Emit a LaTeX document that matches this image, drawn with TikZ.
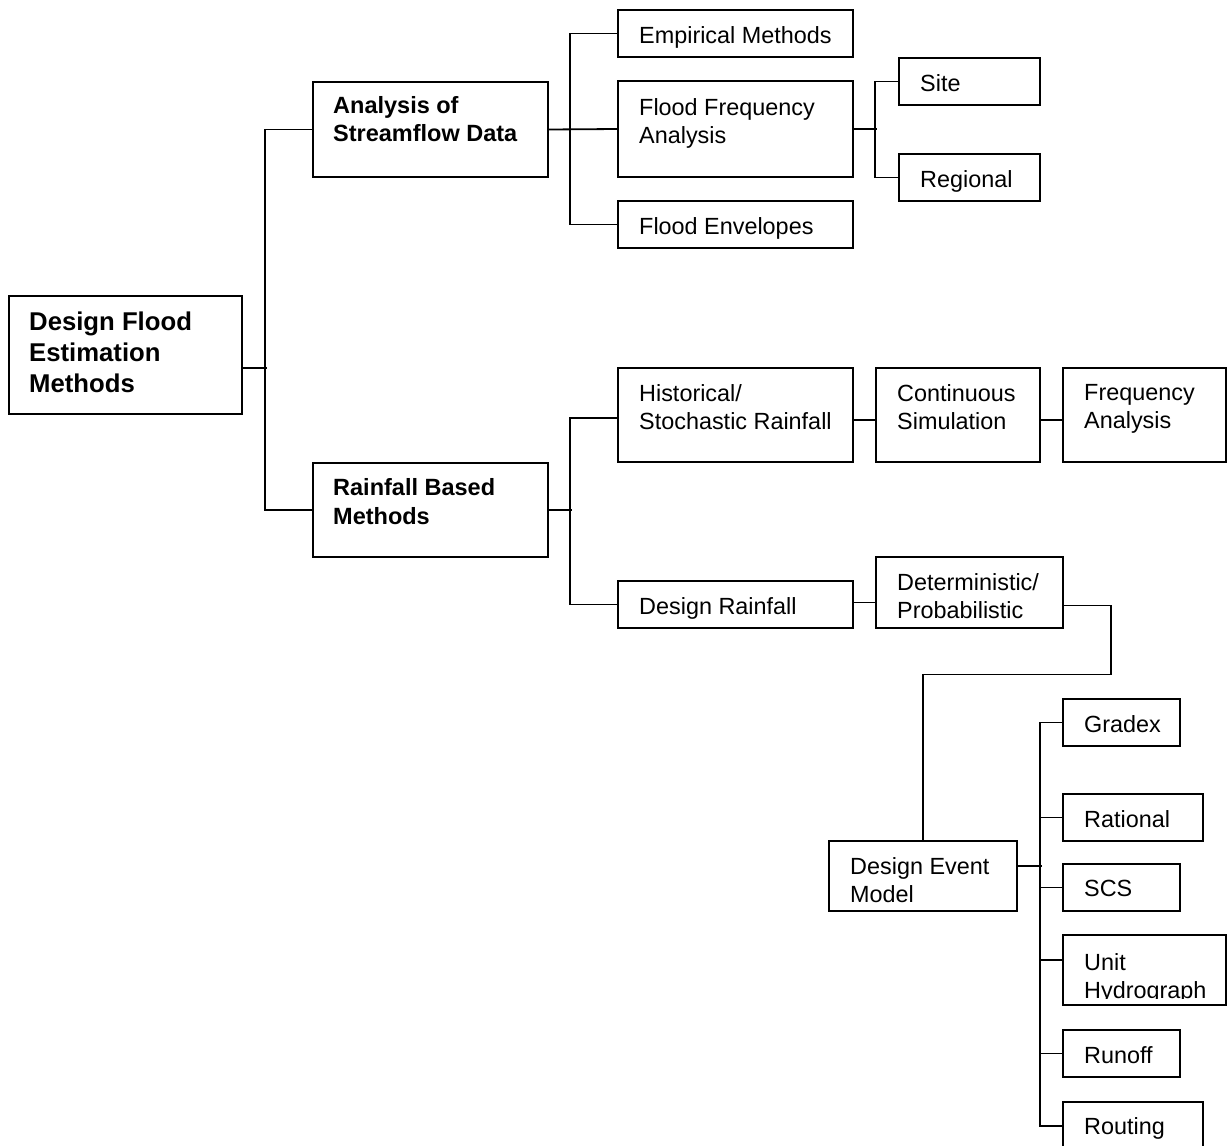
\documentclass[tikz,border=0pt]{standalone}
\usepackage{fontspec}
\setmainfont{Liberation Sans}
\newcommand\rgfont{\fontsize{23.4}{28}\selectfont}
\newcommand\bdfont{\fontsize{23.5}{28.5}\selectfont\bfseries}
\newcommand\bigfont{\fontsize{25.7}{31}\selectfont\bfseries}
\tikzset{
  boxst/.style={draw, line width=1.8pt, inner sep=0pt, rectangle},
  lbl/.style={inner sep=0pt, align=left, anchor=north west, font=\rgfont},
  conn/.style={line width=1.8pt}
}
% name, x1, y1, x2, y2, cap top, text
\newcommand\mybx[7]{%
  \node[boxst, minimum width={#4-#2}, minimum height={#5-#3}] (#1) at ({(#2+#4)/2},{(#3+#5)/2}) {};
  \node[lbl] (#1-t) at ({#2+21},#6) {#7};
}
\begin{document}
\begin{tikzpicture}[x=1pt,y=-1pt]
\useasboundingbox (0,0) rectangle (1227,1146);
\fill[white] (0,0) rectangle (1227,1146);

\node[boxst, minimum width=233, minimum height=118] (dfem) at (125.5,355) {};
\node[lbl, font=\bigfont] (dfem-t) at (29,312) {Design Flood\\Estimation\\Methods};

\node[boxst, minimum width=235, minimum height=95] (asd) at (430.5,129.5) {};
\node[lbl, font=\bdfont] (asd-t) at (333,96) {Analysis of\\Streamflow Data};

\node[boxst, minimum width=235, minimum height=94] (rbm) at (430.5,510) {};
\node[lbl, font=\bdfont] (rbm-t) at (333,478.5) {Rainfall Based\\Methods};

\mybx{emp}{618}{10}{853}{57}{26.5}{Empirical Methods}
\mybx{ffa}{618}{81}{853}{177}{98.5}{Flood Frequency\\Analysis}
\mybx{fe}{618}{201}{853}{248}{217.5}{Flood Envelopes}
\mybx{site}{899}{58}{1040}{105}{74.5}{Site}
\mybx{reg}{899}{154}{1040}{201}{170.5}{Regional}

\mybx{hist}{618}{368}{853}{462}{384.5}{Historical/\\Stochastic Rainfall}
\mybx{cs}{876}{368}{1040}{462}{384.5}{Continuous\\Simulation}
\mybx{fa}{1063}{368}{1226}{462}{384.5}{Frequency\\Analysis}
\mybx{dr}{618}{581}{853}{628}{597.5}{Design Rainfall}
\mybx{det}{876}{557}{1063}{628}{573.5}{Deterministic/\\Probabilistic}
\mybx{dem}{829}{841}{1017}{911}{857.5}{Design Event\\Model}

\mybx{gr}{1063}{699}{1180}{746}{715.5}{Gradex}
\mybx{ra}{1063}{794}{1203}{841}{810.5}{Rational}
\mybx{scs}{1063}{864}{1180}{911}{879.5}{SCS}
\node[boxst, minimum width=163, minimum height=70] (uh) at (1144.5,970) {};
\begin{scope}
  \clip (1063,936) rectangle (1226,998);
  \node[lbl] (uh-t) at (1084,953) {Unit\\Hydrograph};
\end{scope}
\mybx{ro}{1063}{1030}{1180}{1077}{1046.5}{Runoff}
\mybx{rt}{1063}{1102}{1203}{1150}{1117.5}{Routing}

% connectors
\draw[conn] ([yshift=-13pt]dfem.east) -- ++(24,0);
\draw[conn] (asd.west) -- ++(-47,0) |- (rbm.west);
\draw[conn] (asd.east) -- (ffa.west);
\draw[conn] (emp.west) -- ++(-47,0) |- (fe.west);
\draw[conn] (ffa.east) -- ++(23,0);
\draw[conn] (site.west) -- ++(-23,0) |- (reg.west);
\draw[conn] (rbm.east) -- ++(23,0);
\draw[conn] ([yshift=-3pt]hist.west) -- ++(-47,0) |- (dr.west);
\draw[conn] ([yshift=-5pt]hist.east) -- ([yshift=-5pt]cs.west);
\draw[conn] ([yshift=-5pt]cs.east) -- ([yshift=-5pt]fa.west);
\draw[conn] ([yshift=-10pt]dr.east |- det.west) -- ([yshift=-10pt]det.west);
\draw[conn] ([yshift=-13pt]det.east) -- ++(47,0) -- ++(0,69) -| (dem.north);
\draw[conn] ([yshift=10pt]dem.east) -- ++(24,0);
\draw[conn] (gr.west) -- ++(-22,0) |- (rt.west);
\draw[conn] (ra.west) -- ++(-22,0);
\draw[conn] (scs.west) -- ++(-22,0);
\draw[conn] ([yshift=10pt]uh.west) -- ++(-22,0);
\draw[conn] (ro.west) -- ++(-22,0);
\end{tikzpicture}
\end{document}
